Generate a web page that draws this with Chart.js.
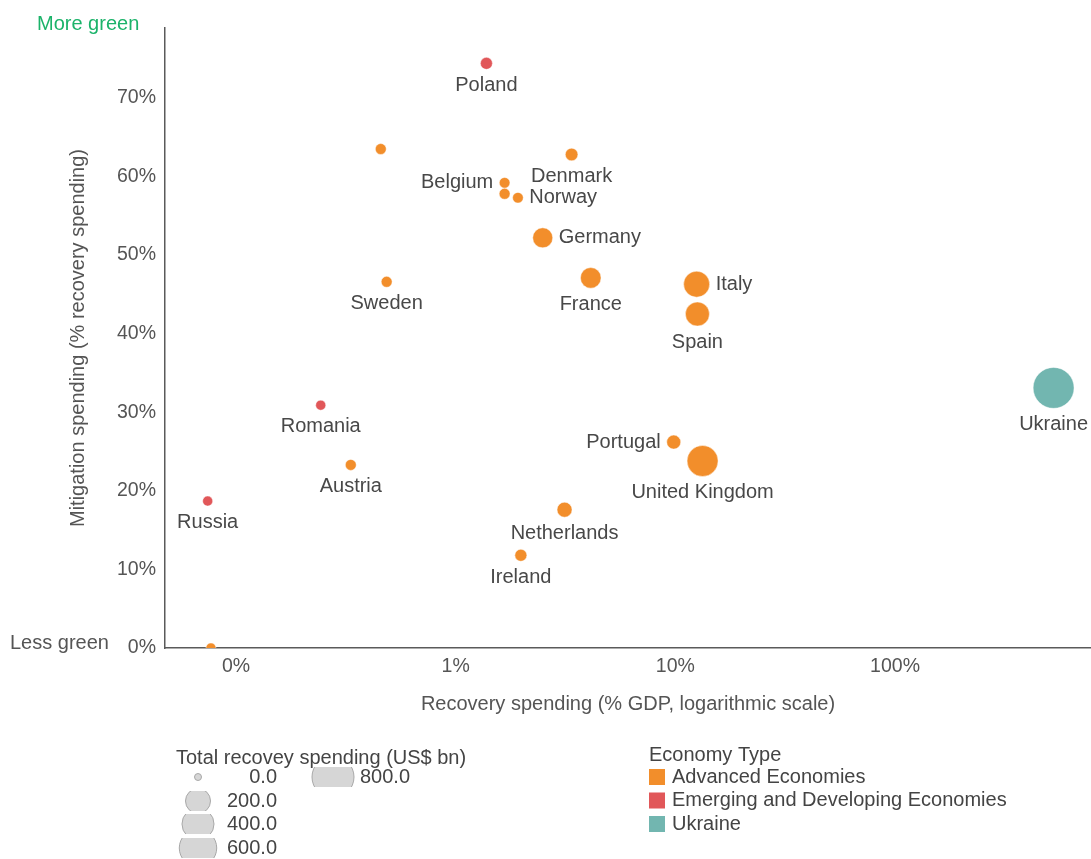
<!DOCTYPE html>
<html>
<head>
<meta charset="utf-8">
<title>Recovery spending and mitigation spending</title>
<script src="https://cdn.jsdelivr.net/npm/chart.js@4.4.0/dist/chart.umd.min.js"></script>
<style>
  html, body { margin: 0; padding: 0; background: #fff; }
  #wrap { width: 1091px; height: 859px; position: relative; }
</style>
</head>
<body>
<div id="wrap"><canvas id="recovery_bubble"></canvas></div>
<script>
// 各國資料 (空字串 = 不標名稱)
const countries = ['Poland', '', 'Denmark', 'Belgium', '', 'Norway', 'Germany', 'France', 'Sweden', 'Italy',
    'Spain', 'Ukraine', 'Romania', 'Austria', 'Russia', '', 'Portugal', 'United Kingdom', 'Netherlands', 'Ireland'];
const recovery_gdp = [1.38, 0.456, 3.37, 1.67, 1.67, 1.92, 2.49, 4.12, 0.485, 12.5,
    12.6, 527, 0.243, 0.333, 0.0743, 0.0769, 9.83, 13.3, 3.13, 1.98];
const mitigation_share = [74.4, 63.5, 62.8, 59.2, 57.8, 57.3, 52.2, 47.1, 46.6, 46.3,
    42.5, 33.1, 30.9, 23.3, 18.7, 0, 26.2, 23.8, 17.6, 11.8];
const total_spending = [11, 6, 15, 5, 6, 5, 100, 110, 6, 224,
    177, 750, 3, 6, 3, 3, 25, 366, 34, 11];
const economy_type = ['emg', 'adv', 'adv', 'adv', 'adv', 'adv', 'adv', 'adv', 'adv', 'adv',
    'adv', 'ukr', 'emg', 'adv', 'emg', 'adv', 'adv', 'adv', 'adv', 'adv'];
const label_side = ['below', '', 'below', 'left', '', 'right', 'right', 'below', 'below', 'right',
    'below', 'below', 'below', 'below', 'below', '', 'left', 'below', 'below', 'below'];

// 圖例 / 刻度
const economy_keys = ['adv', 'emg', 'ukr'];
const economy_labels = ['Advanced Economies', 'Emerging and Developing Economies', 'Ukraine'];
const economy_colors = ['rgb(242, 142, 43)', 'rgb(225, 87, 89)', 'rgb(114, 182, 176)'];
const size_steps = [0, 200, 400, 600, 800];
const x_ticks = [0.1, 1, 10, 100];
const y_ticks = [0, 10, 20, 30, 40, 50, 60, 70];

const FONT = '"Liberation Sans", Arial, sans-serif';

// 總支出 (US$ bn) -> 泡泡半徑 (px)
function bubble_radius(v) {
    return 4 + 17 * Math.sqrt(v / 800);
}

let datasets = economy_keys.map(function (key, k) {
    let points = [];
    for (let i = 0; i < countries.length; i++) {
        if (economy_type[i] !== key) continue;
        points.push({
            x: recovery_gdp[i],
            y: mitigation_share[i],
            r: bubble_radius(total_spending[i]),
            name: countries[i],
            side: label_side[i]
        });
    }
    return {
        label: economy_labels[k],
        data: points,
        backgroundColor: economy_colors[k],
        borderColor: 'rgba(255, 255, 255, 0.45)',
        borderWidth: 1,
        clip: {left: false, top: false, right: false, bottom: 0}
    };
});

// 國名、Less/More green、下方兩個圖例
const annotate_plugin = {
    id: 'annotate',
    afterDatasetsDraw(chart) {
        let ctx = chart.ctx;
        ctx.save();
        ctx.font = '20px ' + FONT;
        ctx.fillStyle = '#484848';
        ctx.textBaseline = 'middle';
        chart.data.datasets.forEach(function (ds, d) {
            chart.getDatasetMeta(d).data.forEach(function (el, i) {
                let p = ds.data[i];
                if (!p.name) return;
                let r = el.options.radius;
                if (p.side === 'below') {
                    ctx.textAlign = 'center';
                    ctx.fillText(p.name, el.x, el.y + r + 16);
                } else if (p.side === 'left') {
                    ctx.textAlign = 'right';
                    ctx.fillText(p.name, el.x - r - 6, el.y);
                } else {
                    ctx.textAlign = 'left';
                    ctx.fillText(p.name, el.x + r + 6, el.y);
                }
            });
        });
        ctx.restore();
    },
    afterDraw(chart) {
        let ctx = chart.ctx;
        ctx.save();
        ctx.font = '20px ' + FONT;
        ctx.textBaseline = 'middle';
        ctx.textAlign = 'left';

        ctx.fillStyle = '#1bb36a';
        ctx.fillText('More green', 37, 24);
        ctx.fillStyle = '#555';
        ctx.fillText('Less green', 10, 643);

        // 泡泡大小圖例
        ctx.fillStyle = '#444';
        ctx.fillText('Total recovey spending (US$ bn)', 176, 758);
        let slots = [[198, 277, 777], [198, 277, 801], [198, 277, 824], [198, 277, 848], [333, 410, 777]];
        size_steps.forEach(function (v, i) {
            let [cx, tx, cy] = slots[i];
            let r = bubble_radius(v);
            ctx.save();
            ctx.beginPath();
            ctx.rect(cx - r - 2, cy - 10, 2 * r + 4, 20);
            ctx.clip();
            ctx.beginPath();
            ctx.arc(cx, cy, v === 0 ? 3.5 : r, 0, Math.PI * 2);
            ctx.fillStyle = '#d6d6d6';
            ctx.fill();
            ctx.strokeStyle = '#a8a8a8';
            ctx.lineWidth = 1;
            ctx.stroke();
            ctx.restore();
            ctx.fillStyle = '#444';
            ctx.textAlign = 'right';
            ctx.fillText(v.toFixed(1), tx, cy);
        });

        // Economy Type 圖例
        ctx.textAlign = 'left';
        ctx.fillStyle = '#444';
        ctx.fillText('Economy Type', 649, 755);
        economy_labels.forEach(function (lab, i) {
            let cy = 777 + i * 23.5;
            ctx.fillStyle = economy_colors[i];
            ctx.fillRect(649, cy - 8, 16, 16);
            ctx.fillStyle = '#444';
            ctx.fillText(lab, 672, cy);
        });
        ctx.restore();
    }
};

let config = {
    type: 'bubble',
    data: {datasets: datasets},
    options: {
        responsive: true,
        maintainAspectRatio: false,
        animation: false,
        layout: {autoPadding: false, padding: {top: 28, right: 0, left: 0, bottom: 0}},
        plugins: {
            legend: {display: false},
            tooltip: {enabled: false}
        },
        scales: {
            x: {
                type: 'logarithmic',
                min: 0.0475,
                max: 780,
                grid: {display: false, drawTicks: false},
                border: {display: true, color: '#5a5a5a', width: 1.5},
                afterBuildTicks: function (scale) {
                    scale.ticks = x_ticks.map(v => ({value: v}));
                },
                afterFit: function (scale) {
                    scale.height = 211;
                },
                ticks: {
                    autoSkip: false,
                    maxRotation: 0,
                    padding: 7,
                    color: '#555',
                    font: {family: FONT, size: 19.5},
                    callback: function (value) {
                        return Math.round(value) + '%';
                    }
                },
                title: {
                    display: true,
                    text: 'Recovery spending (% GDP, logarithmic scale)',
                    color: '#555',
                    font: {family: FONT, size: 20},
                    padding: {top: 0, bottom: 143}
                }
            },
            y: {
                type: 'linear',
                min: 0,
                max: 78.9,
                grid: {display: false, drawTicks: false},
                border: {display: true, color: '#5a5a5a', width: 1.5},
                afterBuildTicks: function (scale) {
                    scale.ticks = y_ticks.map(v => ({value: v}));
                },
                afterFit: function (scale) {
                    scale.width = 165;
                },
                ticks: {
                    padding: 9,
                    color: '#555',
                    font: {family: FONT, size: 19.5},
                    callback: function (value) {
                        return value + '%';
                    }
                },
                title: {
                    display: true,
                    text: 'Mitigation spending (% recovery spending)',
                    color: '#555',
                    font: {family: FONT, size: 20},
                    padding: {top: 66, bottom: 0}
                }
            }
        }
    },
    plugins: [annotate_plugin]
};

let recovery_bubble_chart = new Chart(document.getElementById('recovery_bubble'), config);
</script>
</body>
</html>
